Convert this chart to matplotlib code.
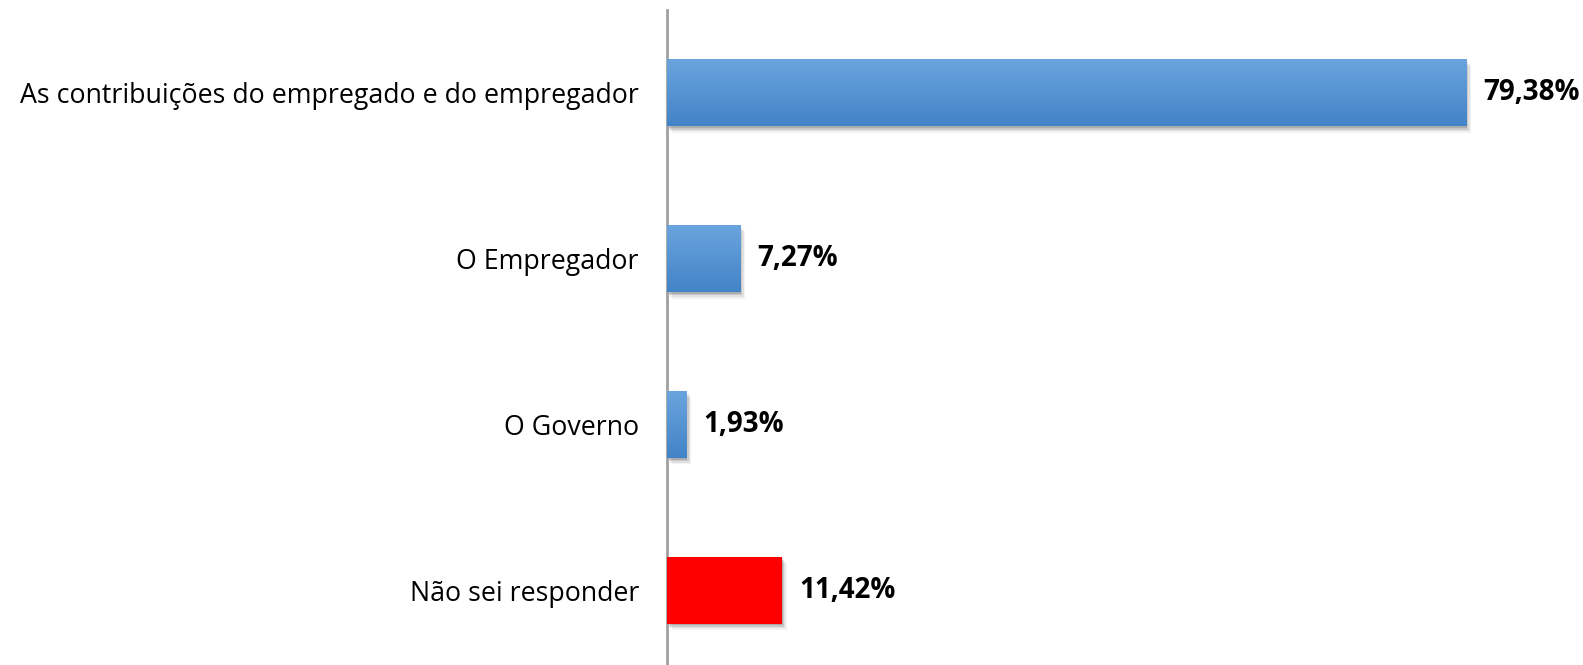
import numpy as np
import matplotlib
matplotlib.use('Agg')
import matplotlib.pyplot as plt
import matplotlib.transforms as mtransforms
from matplotlib.colors import LinearSegmentedColormap
from matplotlib.patches import Rectangle

# dados
categorias = ['As contribuições do empregado e do empregador', 'O Empregador',
              'O Governo', 'Não sei responder']
valores = [79.38, 7.27, 1.93, 11.42]
cores = ['grad', 'grad', 'grad', '#ff0000']

plt.rcParams['font.family'] = ['Open Sans', 'DejaVu Sans']

fig = plt.figure(figsize=(15.83, 6.65), dpi=100)
ax = fig.add_axes([0.4212, -0.012, 0.5725, 0.997])

y = np.arange(len(categorias))
altura = 0.405

# gradiente azul das barras
azul = LinearSegmentedColormap.from_list('azul', ['#6aa5de', '#4383c7'])
grad = np.linspace(0, 1, 100).reshape(-1, 1)

bars = ax.barh(y, valores, height=altura, color='none', zorder=3)
for b, c in zip(bars, cores):
    x0, y0 = b.get_x(), b.get_y()
    w, h = b.get_width(), b.get_height()
    # sombra suave
    for k, a in [(8, 0.05), (6, 0.07), (4, 0.1), (2, 0.15)]:
        off = mtransforms.offset_copy(ax.transData, fig=fig, x=k * 0.6, y=-k * 0.8, units='dots')
        ax.add_patch(Rectangle((x0, y0), w, h, transform=off, facecolor='black',
                               alpha=a, edgecolor='none', zorder=2))
    if c == 'grad':
        ax.add_patch(Rectangle((x0, y0), w, h, facecolor='white', edgecolor='none', zorder=3))
        im = ax.imshow(grad, cmap=azul, aspect='auto', extent=(x0, x0 + w, y0 + h, y0),
                       zorder=4, interpolation='bicubic')
        clip = Rectangle((x0, y0), w, h, transform=ax.transData)
        im.set_clip_path(clip)
    else:
        ax.add_patch(Rectangle((x0, y0), w, h, facecolor=c, edgecolor='none', zorder=4))

ax.set_xlim(0, 90)
ax.set_ylim(3.5, -0.5)

for yi, v in zip(y, valores):
    ax.text(v + 1.7, yi, f'{v:.2f}'.replace('.', ',') + '%', va='center', ha='left',
            fontsize=20, fontweight='bold', color='black', zorder=5)

ax.set_yticks(y)
ax.set_yticklabels(categorias, fontsize=19.3)
ax.tick_params(axis='y', length=0, pad=20)
ax.set_xticks([])
for s in ['top', 'right', 'bottom']:
    ax.spines[s].set_visible(False)
ax.spines['left'].set_color('#a0a0a0')
ax.spines['left'].set_linewidth(2)

fig.savefig('out.png', dpi=100)
